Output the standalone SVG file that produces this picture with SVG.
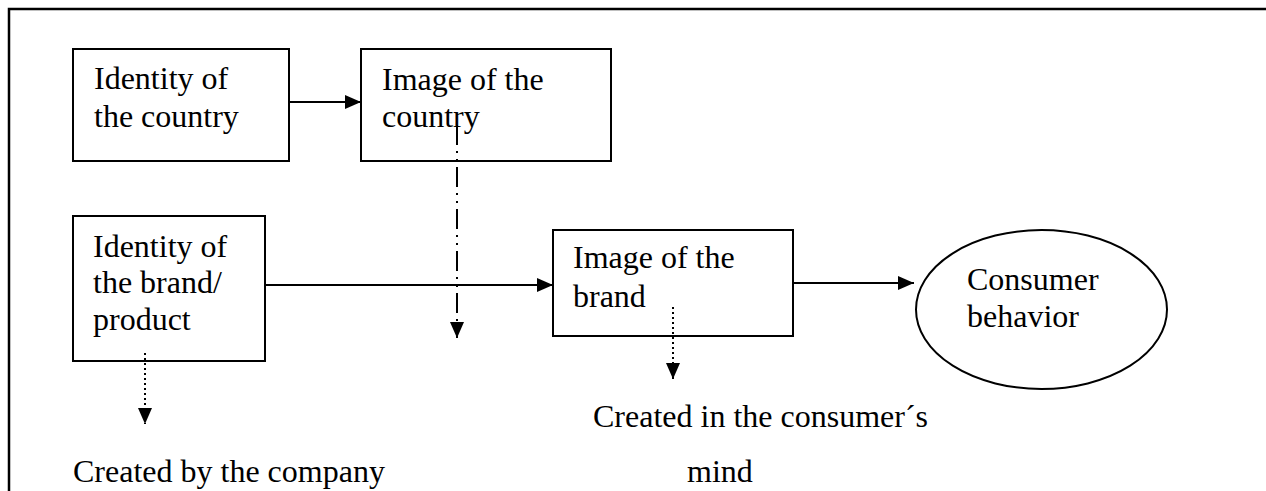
<svg xmlns="http://www.w3.org/2000/svg" width="1266" height="491" viewBox="0 0 1266 491">
<defs>
<style>
.box{fill:#fff;stroke:#000;stroke-width:2}
.t{font-family:"Liberation Serif","Times New Roman",serif;font-size:32px;fill:#000}
.c{stroke:#000;stroke-width:2;fill:none}
.dot{stroke:#000;stroke-width:2;fill:none;stroke-dasharray:2 3}
.dd{stroke:#000;stroke-width:2;fill:none;stroke-dasharray:20 6 2 6 2 6}
</style>
<marker id="ah" viewBox="0 0 16 14" refX="16" refY="7" markerWidth="16" markerHeight="14" markerUnits="userSpaceOnUse" orient="auto">
<path d="M0,0 L16,7 L0,14 Z" fill="#000"/>
</marker>
</defs>
<rect width="1266" height="491" fill="#fff"/>
<path d="M9,491 V9 H1266" stroke="#000" stroke-width="2.5" fill="none"/>
<g id="identity-country">
<rect class="box" x="73" y="49" width="216" height="112"/>
<text class="t" x="94" y="89">Identity of</text>
<text class="t" x="94" y="127">the country</text>
</g>
<g id="image-country">
<rect class="box" x="361" y="49" width="250" height="112"/>
<text class="t" x="382" y="90">Image of the</text>
<text class="t" x="382" y="127">country</text>
</g>
<g id="identity-brand">
<rect class="box" x="73" y="216" width="192" height="145"/>
<text class="t" x="93" y="257">Identity of</text>
<text class="t" x="93" y="293">the brand/</text>
<text class="t" x="93" y="330">product</text>
</g>
<g id="image-brand">
<rect class="box" x="553" y="230" width="240" height="106"/>
<text class="t" x="573" y="268">Image of the</text>
<text class="t" x="573" y="307">brand</text>
</g>
<g id="consumer-behavior">
<ellipse class="box" cx="1041.5" cy="309.5" rx="125.5" ry="79.5"/>
<text class="t" x="967" y="290">Consumer</text>
<text class="t" x="967" y="327">behavior</text>
</g>
<g id="labels">
<text class="t" x="593" y="427">Created in the consumer´s</text>
<text class="t" x="73" y="482">Created by the company</text>
<text class="t" x="687" y="482">mind</text>
</g>
<g id="connectors">
<line class="c" x1="289" y1="102" x2="361" y2="102" marker-end="url(#ah)"/>
<line class="c" x1="265" y1="285" x2="553" y2="285" marker-end="url(#ah)"/>
<line class="c" x1="793" y1="283" x2="914" y2="283" marker-end="url(#ah)"/>
<line class="dd" x1="457" y1="125" x2="457" y2="338" marker-end="url(#ah)"/>
<line class="dot" x1="145" y1="353" x2="145" y2="424" marker-end="url(#ah)"/>
<line class="dot" x1="673" y1="307" x2="673" y2="379" marker-end="url(#ah)"/>
</g>
</svg>
